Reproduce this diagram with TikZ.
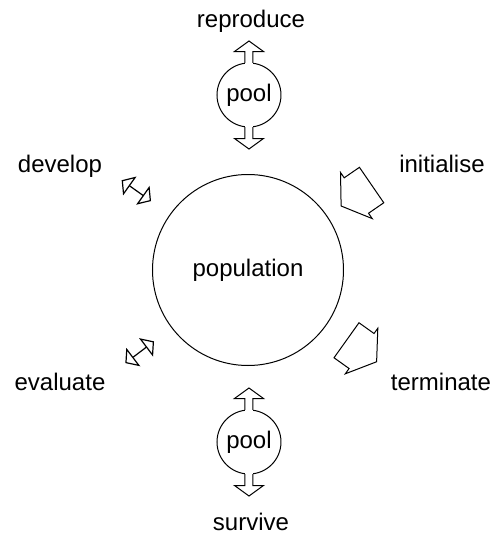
\documentclass[tikz,border=0pt]{standalone}
\usepackage{fontspec}
\setmainfont{Liberation Sans}
\usetikzlibrary{arrows.meta}
\tikzset{stage/.style={circle,draw=black,line width=0.5pt,inner sep=0pt}}
\tikzset{phase/.style={anchor=base}}
\tikzset{swap/.style={<->,line width=0.6pt,>={Triangle[open,length=5pt,width=11.5pt]}}}
% block arrow, tip at the origin, pointing along +x
\tikzset{fat arrow/.pic={
  \draw[line width=0.5pt,fill=white] (0,0) -- (-18.5,28) -- (-18.5,21.5) -- (-37,21.5)
    -- (-37,-21.5) -- (-18.5,-21.5) -- (-18.5,-28) -- cycle;
}}
% open arrow growing out of a pool, pointing along +y
\tikzset{pool arrow/.pic={
  \fill[white] (-4,-3) rectangle (4,11);
  \draw[line width=0.5pt] (-4,-0.3) -- (-4,11) -- (-14.5,11) -- (0,21.5) -- (14.5,11)
    -- (4,11) -- (4,-0.3);
}}

\begin{document}
\begin{tikzpicture}[x=0.5pt,y=0.5pt,font=\fontsize{12}{14}\selectfont]
\useasboundingbox (-248,-267) rectangle (246,270);
% \draw[help lines] (-240,-260) grid (240,260);
\node (pop) [stage,minimum size=95.5pt] at (0,0) {population};
\node (top) [stage,minimum size=32pt] at (1,175) {pool};
\node (bot) [stage,minimum size=32pt] at (1,-172) {pool};
%
\node (rep) [phase] at (3,243) {reproduce};
\node (sur) [phase] at (3,-260) {survive};
\node (dev) [phase] at (-188,98) {develop};
\node (ini) [phase] at (194,98) {initialise};
\node (eva) [phase] at (-188,-120) {evaluate};
\node (ter) [phase] at (193,-120) {terminate};
%
\pic at (top.north) {pool arrow};
\pic[rotate=180] at (top.south) {pool arrow};
\pic at (bot.north) {pool arrow};
\pic[rotate=180] at (bot.south) {pool arrow};
%
\pic[rotate=214.5] at (34.5:113) {fat arrow};
\pic[rotate=-35.5] at (-35.5:158) {fat arrow};
%
\coordinate (dev1) at (144.6:155);
\coordinate (dev2) at (144.6:119);
\coordinate (eva1) at (217.2:154);
\coordinate (eva2) at (217.2:118);
\path[swap] (dev1) edge (dev2);
\path[swap] (eva1) edge (eva2);
\end{tikzpicture}
\end{document}
